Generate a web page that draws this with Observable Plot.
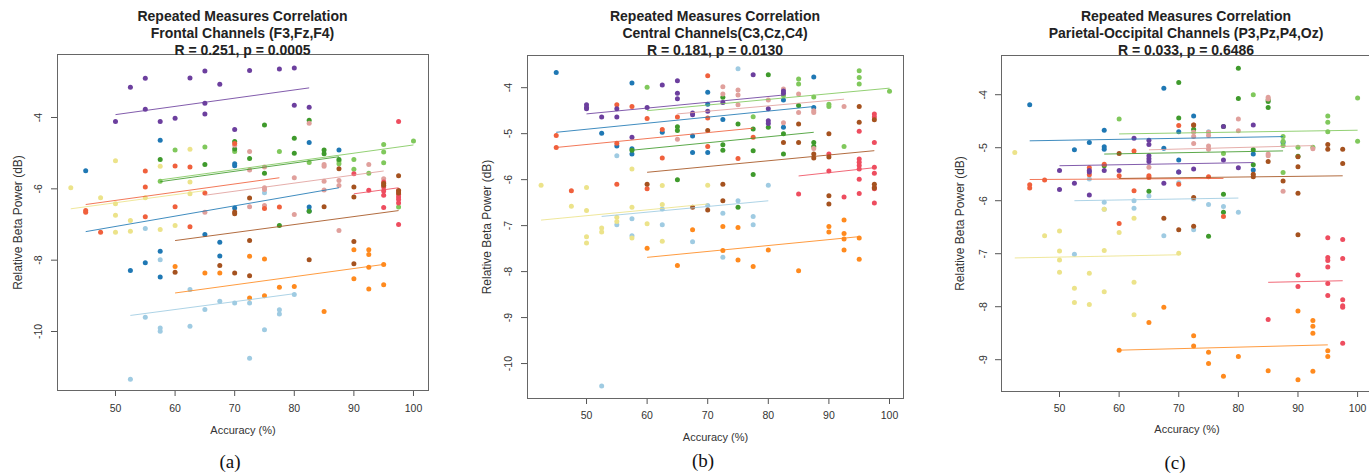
<!DOCTYPE html>
<html><head><meta charset="utf-8">
<script src="https://cdn.jsdelivr.net/npm/d3@7"></script>
<script src="https://cdn.jsdelivr.net/npm/@observablehq/plot@0.6"></script>
<style>
body{margin:0;background:#fff;width:1369px;height:473px;overflow:hidden;position:relative;font-family:"Liberation Sans",Arial,sans-serif;}
.panel{position:absolute;}
.title{position:absolute;top:7.5px;text-align:center;font-weight:bold;font-size:14px;line-height:17px;color:#222;white-space:nowrap;transform:translateX(-50%);}
.cap{position:absolute;font-family:"Liberation Serif","Times New Roman",serif;font-size:19px;color:#111;transform:translate(-50%,-50%);white-space:nowrap;}
</style></head><body>
<script>
const subjects = ["S1","S2","S3","S4","S5","S6","S7","S8","S9","S10","S11"];
const subjectColors = ["#9fcbe2","#1f78b4","#80c85c","#3f9a2c","#e0a09c","#f0603c","#ee4d5f","#ff8a1e","#ece38a","#6c3f9e","#a5521f"];
const xTicks = [50,60,70,80,90,100];
const titlesA = ["Repeated Measures Correlation","Frontal Channels (F3,Fz,F4)","R = 0.251, p = 0.0005"];
const titlesB = ["Repeated Measures Correlation","Central Channels(C3,Cz,C4)","R = 0.181, p = 0.0130"];
const titlesC = ["Repeated Measures Correlation","Parietal-Occipital Channels (P3,Pz,P4,Oz)","R = 0.033, p = 0.6486"];
const captions = ["(a)","(b)","(c)"];
const xLabel = "Accuracy (%)";
const yLabel = "Relative Beta Power (dB)";
const yTicksA = [-10,-8,-6,-4];
const yTicksB = [-10,-9,-8,-7,-6,-5,-4];
const yTicksC = [-9,-8,-7,-6,-5,-4];

// Frontal: [subject, accuracy, power]
const frontalPoints = [
["S1",57.5,-7.99],["S1",55,-7.11],["S1",75,-6.11],["S1",62.5,-8.82],["S1",65,-9.38],["S1",67.5,-9.15],["S1",70,-9.20],["S1",72.5,-9.20],["S1",77.5,-9.39],["S1",77.5,-9.51],["S1",80,-8.96],["S1",55,-9.60],["S1",57.5,-9.90],["S1",57.5,-9.99],["S1",62.5,-9.85],["S1",75,-9.95],["S1",72.5,-10.75],["S1",52.5,-11.34],
["S2",45,-5.49],["S2",57.5,-4.64],["S2",70,-5.35],["S2",70,-5.30],["S2",82.5,-4.70],["S2",87.5,-4.91],["S2",70,-6.54],["S2",82.5,-6.51],["S2",82.5,-6.62],["S2",65,-7.28],["S2",67.5,-7.50],["S2",57.5,-7.75],["S2",67.5,-7.88],["S2",55,-8.07],["S2",52.5,-8.29],["S2",57.5,-8.47],
["S3",60,-4.91],["S3",65,-4.83],["S3",70,-4.95],["S3",77.5,-4.95],["S3",82.5,-5.26],["S3",87.5,-5.22],["S3",87.5,-5.30],["S3",90,-5.18],["S3",90,-5.45],["S3",92.5,-5.56],["S3",95,-4.76],["S3",95,-4.97],["S3",95,-5.27],["S3",100,-4.66],["S3",97.5,-6.51],["S3",57.5,-5.79],
["S4",57.5,-5.18],["S4",65,-5.32],["S4",70,-4.67],["S4",70,-4.88],["S4",72.5,-5.15],["S4",75,-4.21],["S4",75,-5.56],["S4",77.5,-7.03],["S4",80,-4.58],["S4",80,-5.00],["S4",82.5,-4.08],["S4",82.5,-6.63],["S4",85,-4.91],["S4",85,-5.02],["S4",87.5,-5.18],
["S5",72.5,-4.95],["S5",72.5,-5.47],["S5",75,-5.39],["S5",75,-5.97],["S5",75,-6.02],["S5",72.5,-6.50],["S5",75,-6.47],["S5",80,-5.69],["S5",80,-6.72],["S5",82.5,-4.16],["S5",85,-5.32],["S5",85,-5.37],["S5",85,-5.79],["S5",85,-6.03],["S5",87.5,-5.77],["S5",87.5,-5.91],["S5",87.5,-7.17],["S5",92.5,-5.32],["S5",65,-6.66],["S5",70,-4.78],["S5",95,-5.72],
["S6",45,-6.61],["S6",45,-6.66],["S6",47.5,-7.22],["S6",55,-5.50],["S6",55,-5.95],["S6",55,-6.78],["S6",60,-5.36],["S6",62.5,-5.39],["S6",60,-6.50],["S6",62.5,-7.06],["S6",65,-6.12],["S6",70,-4.73],["S6",77.5,-6.51],["S6",75,-6.55],
["S7",97.5,-6.06],["S7",97.5,-6.16],["S7",97.5,-6.23],["S7",97.5,-6.30],["S7",97.5,-6.40],["S7",95,-5.81],["S7",95,-5.95],["S7",95,-6.06],["S7",95,-6.18],["S7",92.5,-6.04],["S7",90,-5.58],["S7",97.5,-7.0],["S7",95,-6.52],["S7",97.5,-4.11],
["S8",60,-8.18],["S8",65,-8.36],["S8",67.5,-8.36],["S8",72.5,-7.89],["S8",75,-7.97],["S8",90,-7.71],["S8",90,-8.52],["S8",92.5,-7.71],["S8",92.5,-7.84],["S8",92.5,-8.20],["S8",92.5,-8.81],["S8",95,-8.12],["S8",95,-8.69],["S8",77.5,-8.76],["S8",80,-8.74],["S8",72.5,-9.06],["S8",75,-9.0],["S8",85,-9.44],
["S9",42.5,-5.97],["S9",47.5,-6.25],["S9",50,-5.21],["S9",50,-6.42],["S9",50,-6.74],["S9",50,-7.22],["S9",52.5,-6.89],["S9",52.5,-7.19],["S9",55,-6.25],["S9",57.5,-5.37],["S9",57.5,-7.14],["S9",60,-7.03],["S9",62.5,-4.89],["S9",62.5,-5.81],["S9",62.5,-6.14],
["S10",52.5,-3.15],["S10",55,-2.90],["S10",62.5,-2.89],["S10",65,-2.70],["S10",67.5,-3.07],["S10",72.5,-2.68],["S10",77.5,-2.64],["S10",80,-2.61],["S10",65,-3.60],["S10",55,-3.77],["S10",65,-3.90],["S10",60,-4.02],["S10",80,-3.66],["S10",82.5,-3.71],["S10",50,-4.11],["S10",57.5,-4.11],["S10",70,-4.34],
["S11",72.5,-6.26],["S11",70,-6.65],["S11",70,-6.70],["S11",85,-6.50],["S11",87.5,-5.44],["S11",90,-5.95],["S11",90,-6.23],["S11",97.5,-5.63],["S11",97.5,-6.05],["S11",97.5,-6.12],["S11",67.5,-8.15],["S11",70,-8.36],["S11",72.5,-7.45],["S11",72.5,-8.44],["S11",60,-8.34],["S11",82.5,-7.99],["S11",90,-7.48],["S11",90,-8.10],["S11",95,-5.85],["S11",95,-5.90]
];
// [subject, x1, y1, x2, y2]
const frontalLines = [
["S1",52.5,-9.55,80,-8.94],["S2",45,-7.20,87.5,-5.97],["S3",57.5,-5.75,100,-4.77],["S4",57.5,-5.80,87.5,-5.10],
["S5",65,-6.18,95,-5.50],["S6",45,-6.44,77.5,-5.69],["S7",90,-6.14,97.5,-5.97],["S8",60,-8.92,95,-8.12],
["S9",42.5,-6.56,65,-6.05],["S10",50,-3.92,82.5,-3.17],["S11",60,-7.45,97.5,-6.61]
];

const centralPoints = [
["S1",55,-5.48],["S1",55,-6.98],["S1",57.5,-6.85],["S1",57.5,-7.22],["S1",62.5,-6.64],["S1",62.5,-6.98],["S1",70,-6.56],["S1",67.5,-7.35],["S1",72.5,-6.73],["S1",72.5,-7.69],["S1",75,-6.46],["S1",77.5,-6.80],["S1",77.5,-6.98],["S1",80,-6.12],["S1",75,-3.59],["S1",52.5,-10.49],
["S2",45,-3.67],["S2",57.5,-3.90],["S2",52.5,-4.99],["S2",70,-4.10],["S2",70,-4.36],["S2",72.5,-4.69],["S2",87.5,-3.77],["S2",82.5,-4.27],["S2",82.5,-4.86],["S2",87.5,-4.43],["S2",67.5,-5.41],["S2",70,-5.41],["S2",67.5,-5.05],["S2",55,-5.27],["S2",57.5,-5.33],["S2",57.5,-5.44],["S2",62.5,-4.97],
["S3",60,-3.99],["S3",85,-3.81],["S3",85,-3.92],["S3",87.5,-4.20],["S3",90,-4.36],["S3",90,-4.41],["S3",95,-3.63],["S3",95,-3.78],["S3",95,-3.92],["S3",100,-4.08],["S3",77.5,-4.63],["S3",92.5,-5.28],["S3",82.5,-4.17],
["S4",80,-3.72],["S4",85,-4.39],["S4",75,-4.79],["S4",77.5,-4.90],["S4",80,-4.86],["S4",82.5,-5.0],["S4",72.5,-5.24],["S4",72.5,-5.36],["S4",77.5,-5.37],["S4",82.5,-5.44],["S4",87.5,-5.19],["S4",87.5,-5.28],["S4",65,-4.85],["S4",65,-4.93],["S4",72.5,-4.21],["S4",57.5,-5.36],["S4",65,-6.0],["S4",77.5,-5.89],["S4",75,-6.6],
["S5",72.5,-3.98],["S5",72.5,-4.14],["S5",75,-4.05],["S5",75,-4.16],["S5",75,-4.37],["S5",80,-4.27],["S5",82.5,-4.03],["S5",85,-4.14],["S5",85,-4.54],["S5",87.5,-4.50],["S5",87.5,-4.54],["S5",92.5,-4.41],["S5",65,-5.12],["S5",82.5,-4.76],["S5",87.5,-5.32],
["S6",45,-5.04],["S6",45,-5.30],["S6",55,-4.37],["S6",55,-5.21],["S6",57.5,-4.41],["S6",60,-4.67],["S6",62.5,-4.91],["S6",65,-4.64],["S6",70,-3.74],["S6",70,-4.66],["S6",70,-5.28],["S6",75,-5.54],["S6",77.5,-5.08],["S6",62.5,-5.53],["S6",47.5,-6.24],["S6",55,-6.10],["S6",60,-6.20],
["S7",85,-6.31],["S7",90,-5.44],["S7",90,-5.81],["S7",92.5,-6.38],["S7",95,-5.55],["S7",95,-5.62],["S7",95,-5.69],["S7",95,-5.77],["S7",95,-5.99],["S7",95,-6.30],["S7",97.5,-5.73],["S7",97.5,-5.86],["S7",97.5,-6.17],["S7",97.5,-6.20],["S7",97.5,-6.51],["S7",97.5,-4.57],["S7",97.5,-4.64],["S7",97.5,-5.19],["S7",95,-4.95],
["S8",60,-7.49],["S8",65,-7.87],["S8",67.5,-7.09],["S8",72.5,-7.02],["S8",72.5,-7.54],["S8",75,-7.04],["S8",75,-7.75],["S8",77.5,-7.89],["S8",80,-7.53],["S8",85,-7.98],["S8",90,-7.02],["S8",90,-7.14],["S8",92.5,-6.88],["S8",92.5,-7.17],["S8",92.5,-7.29],["S8",92.5,-7.53],["S8",95,-7.27],["S8",95,-7.73],
["S9",42.5,-6.12],["S9",47.5,-6.58],["S9",50,-6.17],["S9",50,-6.67],["S9",50,-7.24],["S9",50,-7.38],["S9",52.5,-7.05],["S9",52.5,-7.14],["S9",55,-6.82],["S9",55,-6.91],["S9",57.5,-5.77],["S9",57.5,-6.60],["S9",57.5,-7.27],["S9",60,-6.96],["S9",62.5,-6.13],["S9",62.5,-6.54],["S9",62.5,-7.34],["S9",70,-6.12],
["S10",50,-4.37],["S10",50,-4.43],["S10",50,-4.46],["S10",52.5,-4.64],["S10",55,-4.46],["S10",55,-4.64],["S10",57.5,-5.08],["S10",60,-4.43],["S10",62.5,-3.94],["S10",65,-3.85],["S10",65,-4.12],["S10",65,-4.24],["S10",67.5,-4.55],["S10",67.5,-4.59],["S10",70,-4.51],["S10",72.5,-4.32],["S10",77.5,-3.72],["S10",82.5,-4.07],["S10",82.5,-4.12],["S10",80,-4.46],["S10",80,-4.72],["S10",80,-4.78],
["S11",87.5,-5.44],["S11",90,-5.51],["S11",90,-6.35],["S11",90,-6.53],["S11",97.5,-6.10],["S11",97.5,-6.18],["S11",60,-6.10],["S11",67.5,-6.60],["S11",70,-6.66],["S11",72.5,-6.10],["S11",72.5,-6.46],["S11",95,-4.41],["S11",95,-4.75],["S11",97.5,-4.70],["S11",90,-5.0],["S11",85,-4.79],["S11",85,-5.19],["S11",87.5,-5.53],["S11",82.5,-5.19],["S11",70,-4.93]
];
const centralLines = [
["S1",52.5,-6.80,80,-6.46],["S2",45,-4.97,87.5,-4.41],["S3",60,-4.50,100,-4.01],["S4",57.5,-5.36,87.5,-4.97],
["S5",65,-4.57,92.5,-4.25],["S6",45,-5.30,77.5,-4.88],["S7",85,-5.92,97.5,-5.74],["S8",60,-7.69,95,-7.24],
["S9",42.5,-6.88,70,-6.53],["S10",50,-4.57,82.5,-4.16],["S11",60,-5.84,97.5,-5.37]
];

const parietalPoints = [
["S1",57.5,-6.03],["S1",57.5,-6.16],["S1",62.5,-6.0],["S1",62.5,-6.14],["S1",65,-5.91],["S1",67.5,-6.66],["S1",72.5,-5.97],["S1",72.5,-6.55],["S1",75,-6.07],["S1",77.5,-6.11],["S1",80,-6.22],["S1",52.5,-7.01],["S1",55,-5.59],["S1",70,-5.66],["S1",75,-4.70],
["S2",45,-4.19],["S2",67.5,-3.88],["S2",72.5,-4.40],["S2",57.5,-4.67],["S2",70,-4.70],["S2",52.5,-5.04],["S2",55,-4.90],["S2",57.5,-4.98],["S2",57.5,-5.03],["S2",67.5,-5.01],["S2",82.5,-5.12],["S2",87.5,-4.90],["S2",70,-5.23],["S2",70,-5.46],["S2",82.5,-5.42],
["S3",60,-4.46],["S3",82.5,-4.0],["S3",100,-4.06],["S3",95,-4.40],["S3",95,-4.52],["S3",95,-4.70],["S3",87.5,-4.79],["S3",87.5,-4.88],["S3",87.5,-4.96],["S3",90,-4.99],["S3",92.5,-4.99],["S3",100,-4.88],["S3",77.5,-5.11],["S3",87.5,-5.47],
["S4",70,-3.77],["S4",80,-3.50],["S4",80,-4.07],["S4",70,-4.44],["S4",72.5,-4.65],["S4",77.5,-4.60],["S4",85,-4.10],["S4",85,-4.13],["S4",85,-4.24],["S4",82.5,-5.04],["S4",90,-5.16],["S4",65,-5.82],["S4",77.5,-5.88],["S4",77.5,-6.22],["S4",75,-6.67],["S4",82.5,-5.32],["S4",57.5,-5.34],
["S5",85,-4.05],["S5",85,-4.08],["S5",80,-4.46],["S5",80,-4.68],["S5",72.5,-4.71],["S5",72.5,-4.79],["S5",75,-4.71],["S5",75,-4.77],["S5",72.5,-4.92],["S5",75,-4.97],["S5",75,-5.03],["S5",85,-5.12],["S5",85,-5.15],["S5",65,-5.37],["S5",87.5,-5.82],["S5",92.5,-5.02],
["S6",70,-4.58],["S6",62.5,-5.06],["S6",72.5,-4.57],["S6",45,-5.70],["S6",45,-5.76],["S6",47.5,-5.61],["S6",55,-5.38],["S6",55,-5.51],["S6",57.5,-5.31],["S6",60,-5.53],["S6",62.5,-5.81],["S6",65,-5.53],["S6",65,-5.56],["S6",70,-5.69],["S6",75,-5.55],["S6",77.5,-6.30],["S6",60,-6.43],
["S7",85,-8.24],["S7",90,-7.40],["S7",90,-7.62],["S7",95,-6.70],["S7",95,-7.07],["S7",95,-7.13],["S7",95,-7.25],["S7",95,-7.56],["S7",95,-7.79],["S7",97.5,-6.73],["S7",97.5,-7.09],["S7",97.5,-7.87],["S7",97.5,-7.98],["S7",97.5,-8.01],["S7",97.5,-8.69],
["S8",67.5,-8.01],["S8",65,-8.30],["S8",90,-8.08],["S8",92.5,-8.26],["S8",92.5,-8.37],["S8",92.5,-8.50],["S8",72.5,-8.55],["S8",72.5,-8.74],["S8",60,-8.82],["S8",75,-8.86],["S8",75,-9.07],["S8",80,-8.94],["S8",77.5,-9.31],["S8",85,-9.21],["S8",90,-9.38],["S8",92.5,-9.22],["S8",95,-8.83],["S8",95,-8.94],
["S9",42.5,-5.09],["S9",47.5,-6.66],["S9",50,-6.57],["S9",50,-6.95],["S9",50,-7.12],["S9",50,-7.35],["S9",52.5,-7.65],["S9",52.5,-7.92],["S9",55,-7.37],["S9",55,-7.96],["S9",57.5,-6.16],["S9",57.5,-6.94],["S9",57.5,-7.72],["S9",60,-6.60],["S9",62.5,-6.33],["S9",62.5,-7.54],["S9",62.5,-8.15],["S9",70,-6.99],
["S10",62.5,-4.82],["S10",65,-4.86],["S10",65,-4.94],["S10",65,-5.15],["S10",77.5,-4.60],["S10",82.5,-4.57],["S10",77.5,-5.23],["S10",50,-5.43],["S10",52.5,-5.67],["S10",50,-5.79],["S10",55,-5.43],["S10",55,-5.46],["S10",57.5,-5.43],["S10",60,-5.43],["S10",55,-5.89],["S10",65,-5.21],["S10",65,-5.26],["S10",67.5,-5.67],["S10",70,-5.46],["S10",72.5,-5.40],["S10",80,-5.38],
["S11",60,-5.11],["S11",85,-5.26],["S11",87.5,-5.63],["S11",90,-5.17],["S11",90,-5.36],["S11",90,-5.86],["S11",90,-6.64],["S11",97.5,-5.30],["S11",67.5,-6.33],["S11",70,-6.55],["S11",72.5,-5.94],["S11",72.5,-6.48],["S11",82.5,-5.55],["S11",82.5,-5.50],["S11",95,-4.94],["S11",95,-5.03],["S11",97.5,-5.03],["S11",72.5,-4.57]
];
const parietalLines = [
["S1",52.5,-6.00,80,-5.95],["S2",45,-4.87,87.5,-4.79],["S3",60,-4.74,100,-4.67],["S4",57.5,-5.12,87.5,-5.06],
["S5",65,-5.04,92.5,-4.96],["S6",45,-5.60,77.5,-5.58],["S7",85,-7.54,97.5,-7.51],["S8",60,-8.82,95,-8.72],
["S9",42.5,-7.08,70,-7.02],["S10",50,-5.34,82.5,-5.28],["S11",60,-5.58,97.5,-5.53]
];

function panel(cfg) {
  const fam = '"Liberation Sans", Arial, sans-serif';
  const svg = Plot.plot({
    width: cfg.width, height: cfg.height,
    marginTop: 14, marginLeft: cfg.ml, marginRight: cfg.mr, marginBottom: cfg.height - 14 - cfg.innerH,
    x: {domain: cfg.xDomain},
    y: {domain: cfg.yDomain},
    color: {domain: subjects, range: subjectColors},
    style: {fontFamily: fam, color: "#555", background: "transparent", overflow: "visible"},
    marks: [
      Plot.axisX(xTicks, {tickSize: 6, tickFormat: () => "", label: null}),
      Plot.axisY(cfg.yTicks, {tickSize: 6, tickFormat: () => "", label: null}),
      Plot.frame({stroke: "#666"}),
      Plot.text(xTicks, {x: d => d, frameAnchor: "bottom", dy: cfg.xTickDy, text: d => String(d), fontSize: 10.5, fill: "#333", lineAnchor: "middle"}),
      Plot.text(cfg.yTicks, {y: d => d, frameAnchor: "left", dx: cfg.yTickDx, rotate: -90, text: d => String(d), fontSize: 10.5, fill: "#333", textAnchor: "middle", lineAnchor: "middle"}),
      Plot.text([xLabel], {frameAnchor: "bottom", dy: cfg.xLabDy, text: d => d, fontSize: 11, fill: "#333", lineAnchor: "middle"}),
      Plot.text([yLabel], {frameAnchor: "left", dx: cfg.yLabDx, rotate: -90, text: d => d, fontSize: 12, fill: "#333", textAnchor: "middle", lineAnchor: "middle"}),
      Plot.dot(cfg.points, {x: d => d[1], y: d => d[2], fill: d => d[0], r: 2.5}),
      Plot.link(cfg.lines, {x1: d => d[1], y1: d => d[2], x2: d => d[3], y2: d => d[4], stroke: d => d[0], strokeWidth: 1, strokeOpacity: 0.85})
    ]
  });
  svg.classList.add("panel");
  svg.style.left = cfg.left + "px";
  svg.style.top = cfg.top + "px";
  document.body.appendChild(svg);
  const t = document.createElement("div");
  t.className = "title";
  t.style.left = cfg.titleX + "px";
  t.innerHTML = cfg.titles.join("<br>");
  document.body.appendChild(t);
  const c = document.createElement("div");
  c.className = "cap";
  c.style.left = cfg.capX + "px";
  c.style.top = cfg.capY + "px";
  c.textContent = cfg.caption;
  document.body.appendChild(c);
}

panel({points: frontalPoints, lines: frontalLines, xDomain: [40.27, 102.52], yDomain: [-11.654, -2.234], yTicks: yTicksA,
  left: 0, top: 40, width: 440, height: 400, ml: 57, mr: 12, innerH: 336,
  xTickDy: 18, xLabDy: 40, yTickDx: -19, yLabDx: -39, titles: titlesA, titleX: 242.5, caption: captions[0], capX: 230, capY: 462});
panel({points: centralPoints, lines: centralLines, xDomain: [40.26, 102.31], yDomain: [-10.76, -3.30], yTicks: yTicksB,
  left: 460, top: 41, width: 455, height: 407, ml: 67, mr: 12, innerH: 343,
  xTickDy: 17, xLabDy: 39, yTickDx: -19, yLabDx: -40, titles: titlesB, titleX: 715, caption: captions[1], capX: 703, capY: 461});
panel({points: parietalPoints, lines: parietalLines, xDomain: [40.27, 102.5], yDomain: [-9.60, -3.26], yTicks: yTicksC,
  left: 910, top: 41, width: 473, height: 400, ml: 91, mr: 11, innerH: 336,
  xTickDy: 17, xLabDy: 38, yTickDx: -18, yLabDx: -41, titles: titlesC, titleX: 1186, caption: captions[2], capX: 1175, capY: 463});
</script>
</body></html>
